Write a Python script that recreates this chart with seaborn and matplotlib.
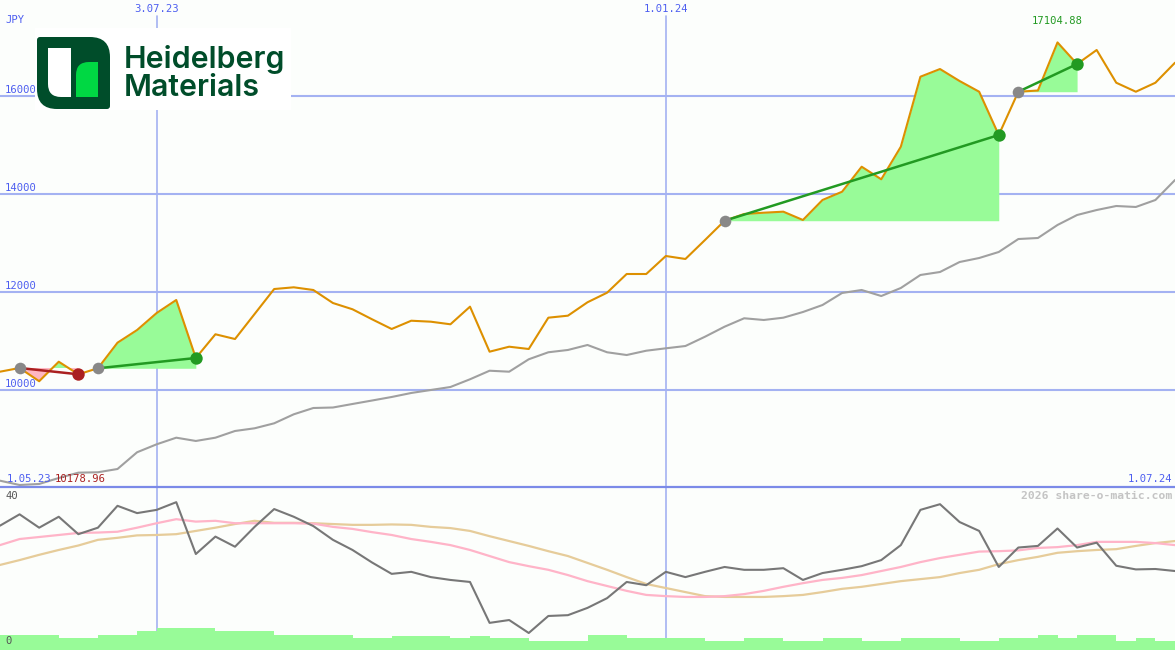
import numpy as np
import pandas as pd
import matplotlib
matplotlib.use("Agg")
import matplotlib.pyplot as plt
import matplotlib.dates as mdates
from matplotlib.path import Path
from matplotlib.patches import PathPatch, Rectangle
import seaborn as sns

# weekly closes, Heidelberg Materials (JPY)
dates = pd.date_range("2023-05-08", periods=61, freq="7D")
close = [10374, 10450, 10178.96, 10578, 10321, 10444, 10967, 11226, 11574, 11840,
         10654, 11139, 11042, 11553, 12064, 12099, 12044, 11778, 11650, 11445,
         11247, 11416, 11396, 11343, 11703, 10783, 10885, 10838, 11478, 11519,
         11793, 11989, 12371, 12371, 12739, 12678, 13066, 13460, 13598, 13624,
         13645, 13475, 13884, 14053, 14564, 14307, 14973, 16404, 16561, 16316,
         16097, 15212, 16097, 16122, 17104.88, 16663, 16950, 16281, 16097, 16281,
         16690]
# comparison line (grey)
bench = [8146, 8058, 8079, 8201, 8310, 8318, 8385, 8727, 8890, 9025,
         8958, 9025, 9162, 9217, 9319, 9503, 9632, 9642, 9714, 9785,
         9857, 9939, 10000, 10061, 10219, 10394, 10374, 10628, 10771, 10818,
         10920, 10771, 10715, 10803, 10852, 10899, 11089, 11294, 11466, 11431,
         11478, 11594, 11737, 11983, 12044, 11921, 12085, 12351, 12412, 12616,
         12698, 12821, 13086, 13107, 13373, 13577, 13679, 13761, 13741, 13884,
         14292]
# lower panel
osc = [30.7, 33.5, 30.2, 32.9, 28.6, 30.2, 35.6, 33.8, 34.6, 36.5,
       23.7, 28.0, 25.5, 30.4, 34.8, 32.9, 30.6, 27.2, 24.7, 21.6,
       18.8, 19.3, 18.0, 17.3, 16.8, 6.7, 7.4, 4.2, 8.4, 8.6,
       10.4, 12.8, 16.8, 16.0, 19.3, 18.0, 19.3, 20.5, 19.8, 19.8,
       20.2, 17.3, 19.0, 19.8, 20.7, 22.2, 25.9, 34.6, 36.0, 31.6,
       29.4, 20.5, 25.3, 25.7, 30.0, 25.3, 26.5, 20.8, 19.9, 20.0,
       19.5]
osc_fast = [25.9, 27.4, 27.9, 28.4, 28.9, 29.0, 29.2, 30.2, 31.3, 32.3,
            31.7, 31.9, 31.3, 31.3, 31.3, 31.3, 31.2, 30.4, 29.9, 29.1,
            28.4, 27.4, 26.7, 25.9, 24.7, 23.2, 21.7, 20.7, 19.8, 18.5,
            17.0, 15.8, 14.6, 13.6, 13.3, 13.1, 13.1, 13.3, 13.8, 14.6,
            15.6, 16.5, 17.3, 17.8, 18.5, 19.5, 20.5, 21.7, 22.7, 23.5,
            24.3, 24.4, 24.6, 25.2, 25.4, 25.9, 26.7, 26.7, 26.7, 26.4,
            25.9]
osc_slow = [21.0, 22.2, 23.5, 24.7, 25.8, 27.2, 27.7, 28.3, 28.4, 28.6,
            29.4, 30.2, 31.1, 31.9, 31.4, 31.4, 31.3, 31.1, 30.9, 30.9,
            31.0, 30.9, 30.4, 30.1, 29.4, 28.1, 26.9, 25.7, 24.4, 23.2,
            21.5, 19.8, 18.0, 16.3, 15.3, 14.3, 13.3, 13.1, 13.1, 13.1,
            13.3, 13.6, 14.3, 15.1, 15.6, 16.3, 17.0, 17.5, 18.0, 19.0,
            19.8, 21.2, 22.2, 23.0, 24.0, 24.4, 24.7, 24.9, 25.7, 26.4,
            26.9]
volume = [3.7, 3.7, 3.7, 3.0, 3.0, 3.7, 3.7, 4.7, 5.5, 5.5,
          5.5, 4.7, 4.7, 4.7, 3.7, 3.7, 3.7, 3.7, 3.0, 3.0,
          3.5, 3.5, 3.5, 3.0, 3.5, 2.9, 2.9, 2.2, 2.2, 2.2,
          3.7, 3.7, 2.9, 2.9, 2.9, 2.9, 2.2, 2.2, 2.9, 2.9,
          2.2, 2.2, 2.9, 2.9, 2.2, 2.2, 2.9, 2.9, 2.9, 2.2,
          2.2, 2.9, 2.9, 3.7, 2.9, 3.7, 3.7, 2.2, 2.9, 2.2,
          2.2]
price_grid = [10000, 12000, 14000, 16000]
# signals: entry index -> exit index
trade_entry = [1, 5, 37, 52]
trade_exit = [4, 10, 51, 55]
date_marks = ["2023-07-03", "2024-01-01"]
mark_labels = ["3.07.23", "1.01.24"]

BG = "#fcfefc"
GRID = "#a4b2f2"
BLUE = "#4d5ef0"
ORANGE = "#dd9000"
GAIN = "#229a22"
LOSS = "#aa2020"

sns.set_style("white")
plt.rcParams["font.family"] = ["DejaVu Sans Mono", "DejaVu Sans"]

x = mdates.date2num(dates)
close = np.array(close, dtype=float)

fig = plt.figure(figsize=(11.75, 6.5), dpi=100, facecolor=BG)
ax = fig.add_axes([0, 163 / 650, 1, 487 / 650], facecolor=BG)
axl = fig.add_axes([0, 0, 1, 162 / 650], facecolor=BG)
for a in (ax, axl):
    a.set_xlim(x[0], x[-1])
    a.set_xticks([])
    a.set_yticks([])
    for s in a.spines.values():
        s.set_visible(False)
ax.set_ylim(8017, 17972)
axl.set_ylim(0, 40)

for p in price_grid:
    ax.axhline(p, color=GRID, lw=1.5, zorder=0)
for d in date_marks:
    xd = mdates.date2num(pd.Timestamp(d))
    ax.axvline(xd, ymax=1 - 16 / 487, color=GRID, lw=1.2, zorder=0)
    axl.axvline(xd, color=GRID, lw=1.2, zorder=0)

# shaded signal areas
for i0, i1 in zip(trade_entry, trade_exit):
    xs = x[i0:i1 + 1]
    ys = close[i0:i1 + 1]
    base = close[i0]
    ax.fill_between(xs, ys, base, where=ys >= base, interpolate=True,
                    color="#98fb98", lw=0, zorder=1)
    ax.fill_between(xs, ys, base, where=ys < base, interpolate=True,
                    color="#ffb6c1", lw=0, zorder=1)

sns.lineplot(x=x, y=bench, color="#a0a0a0", lw=1.5, ax=ax, zorder=2)
sns.lineplot(x=x, y=close, color=ORANGE, lw=1.5, ax=ax, zorder=3)

for i0, i1 in zip(trade_entry, trade_exit):
    c = GAIN if close[i1] > close[i0] else LOSS
    ax.plot([x[i0], x[i1]], [close[i0], close[i1]], color=c, lw=1.8, zorder=4)
    ax.scatter([x[i0]], [close[i0]], s=70, color="#888888", lw=0, zorder=5)
    ax.scatter([x[i1]], [close[i1]], s=80, color=c, lw=0, zorder=5)

# lower panel
axl.bar(x, volume, width=7, align="edge", color="#98fb98", lw=0, zorder=1)
sns.lineplot(x=x, y=osc_slow, color="#e6cc9a", lw=1.6, ax=axl, zorder=2)
sns.lineplot(x=x, y=osc_fast, color="#ffb4c8", lw=1.6, ax=axl, zorder=3)
sns.lineplot(x=x, y=osc, color="#777777", lw=1.5, ax=axl, zorder=4)

# overlay in pixel coordinates for labels and logo
ov = fig.add_axes([0, 0, 1, 1])
ov.set_xlim(0, 1175)
ov.set_ylim(650, 0)
ov.axis("off")
ov.patch.set_alpha(0)

ov.plot([0, 1175], [487, 487], color="#7b8ae8", lw=1.6)

fs = 7.6
ov.text(5, 20, "JPY", color=BLUE, fontsize=fs, va="center")
for d, lab in zip(date_marks, mark_labels):
    xd = mdates.date2num(pd.Timestamp(d))
    px = (xd - x[0]) / (x[-1] - x[0]) * 1175
    ov.text(px, 9, lab, color=BLUE, fontsize=fs, ha="center", va="center")
for p in price_grid:
    py = 390 - (p - 10000) * 0.04892
    ov.text(5, py - 6, str(p), color=BLUE, fontsize=fs, va="center")

imax = int(np.argmax(close))
imin = int(np.argmin(close))
ov.text(imax * 1175 / 60, 21, f"{close[imax]:.2f}",
        color=GAIN, fontsize=fs, ha="center", va="center")
ov.text(7, 479, "1.05.23", color=BLUE, fontsize=fs, va="center")
ov.text(55, 479, f"{close[imin]:.2f}", color=LOSS, fontsize=fs, va="center")
ov.text(1172, 479, "1.07.24", color=BLUE, fontsize=fs, ha="right", va="center")
ov.text(1172, 496, "2026 share-o-matic.com", color="#c4c4c4", fontsize=8.2,
        fontweight="bold", ha="right", va="center")
ov.text(5, 496, "40", color="#555555", fontsize=fs, va="center")
ov.text(5, 641, "0", color="#555555", fontsize=fs, va="center")


def rrect(x0, y0, x1, y1, tl, tr, br, bl):
    verts = [(x0 + tl, y0), (x1 - tr, y0), (x1, y0), (x1, y0 + tr),
             (x1, y1 - br), (x1, y1), (x1 - br, y1), (x0 + bl, y1),
             (x0, y1), (x0, y1 - bl), (x0, y0 + tl), (x0, y0), (x0 + tl, y0)]
    codes = [Path.MOVETO, Path.LINETO, Path.CURVE3, Path.CURVE3, Path.LINETO,
             Path.CURVE3, Path.CURVE3, Path.LINETO, Path.CURVE3, Path.CURVE3,
             Path.LINETO, Path.CURVE3, Path.CURVE3]
    return Path(verts, codes)


# logo
ov.add_patch(Rectangle((35, 28), 256, 82, color="white", lw=0, zorder=5))
ov.add_patch(PathPatch(rrect(37, 37, 110, 109, 3, 20, 3, 20),
                       color="#004d2a", lw=0, zorder=6))
ov.add_patch(PathPatch(rrect(48, 48, 71, 97, 0, 0, 0, 13),
                       color="white", lw=0, zorder=7))
ov.add_patch(PathPatch(rrect(76, 62, 98, 97, 13, 0, 0, 0),
                       color="#00d843", lw=0, zorder=7))
ov.text(124, 60, "Heidelberg", color="#004d2a", fontsize=21.8, fontweight="semibold",
        family="Inter", va="center", ha="left", zorder=8)
ov.text(124, 88, "Materials", color="#004d2a", fontsize=21.8, fontweight="semibold",
        family="Inter", va="center", ha="left", zorder=8)

fig.savefig("out.png", dpi=100, facecolor=BG)
